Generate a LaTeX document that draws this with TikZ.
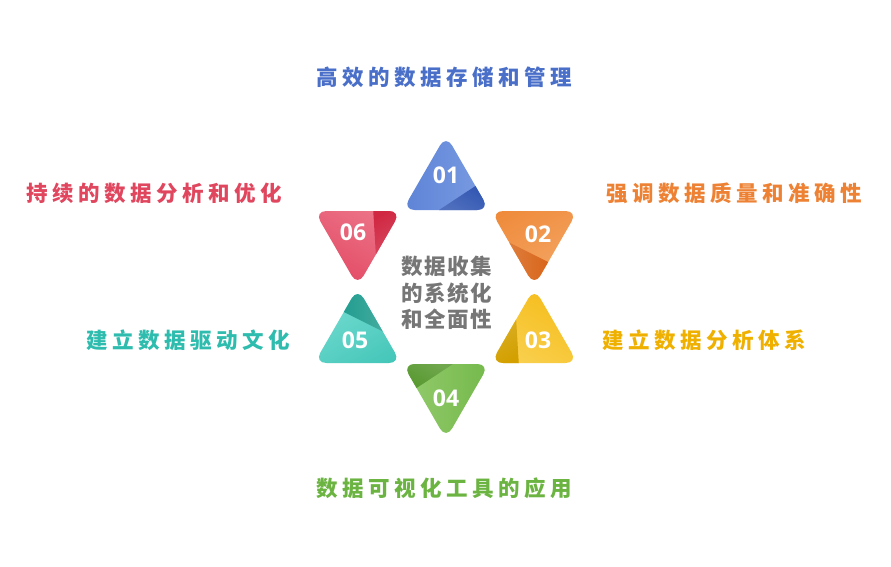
\documentclass[tikz,border=0pt]{standalone}
\usepackage{fontspec}
\setmainfont{Open Sans}
\newfontfamily\cjk[LetterSpace=21]{Noto Sans CJK SC}
\newfontfamily\cjkc[LetterSpace=7]{Noto Sans CJK SC}
\newfontfamily\numf{Open Sans}
\usetikzlibrary{calc}
\definecolor{c1a}{HTML}{5A80D5}\definecolor{c1b}{HTML}{7FA0E4}\definecolor{c1f}{HTML}{3156B2}
\definecolor{c2a}{HTML}{EE8532}\definecolor{c2b}{HTML}{F4A868}\definecolor{c2f}{HTML}{D8661A}
\definecolor{c3a}{HTML}{F5BC18}\definecolor{c3b}{HTML}{FAD55E}\definecolor{c3f}{HTML}{D3A000}
\definecolor{c4a}{HTML}{70B646}\definecolor{c4b}{HTML}{98CE72}\definecolor{c4f}{HTML}{57982F}
\definecolor{c5a}{HTML}{3AC2B3}\definecolor{c5b}{HTML}{78DDD3}\definecolor{c5f}{HTML}{229D8F}
\definecolor{c6a}{HTML}{E24862}\definecolor{c6b}{HTML}{EF8092}\definecolor{c6f}{HTML}{D02843}
\definecolor{t1}{HTML}{4A6FC9}
\definecolor{t2}{HTML}{EE8234}
\definecolor{t3}{HTML}{EFB000}
\definecolor{t4}{HTML}{6BB441}
\definecolor{t5}{HTML}{2DBCAD}
\definecolor{t6}{HTML}{E0475F}
\definecolor{cgray}{HTML}{767676}
\begin{document}
\begin{tikzpicture}[x=1pt,y=1pt,
  lab/.style={font=\cjk\bfseries\fontsize{21.5}{24}\selectfont, inner sep=0pt, anchor=west},
  num/.style={font=\numf\bfseries\fontsize{23}{24}\selectfont, text=white, inner sep=0pt},
  ctrtext/.style={font=\cjkc\bfseries\fontsize{21.5}{26.5}\selectfont, text=cgray, align=center, inner sep=0pt}
  ]
\useasboundingbox (0,0) rectangle (891,-567);
\fill[white] (0,0) rectangle (891,-567);
\coordinate (O) at (446,-287);
\foreach \i/\ang/\ca/\cb/\cf/\tx/\ty in {1/90/c1a/c1b/c1f/446/175, 2/30/c2a/c2b/c2f/538/234, 3/-30/c3a/c3b/c3f/538/340, 4/-90/c4a/c4b/c4f/446/398, 5/-150/c5a/c5b/c5f/355/340, 6/150/c6a/c6b/c6f/353/232}{
  \pgfmathsetmacro\aB{\ang+120}
  \pgfmathsetmacro\aF{\ang-120}
  \coordinate (c\i) at ($(O)+(\ang:102)$);
  \coordinate (A\i) at ($(c\i)+(\ang:50)$);
  \coordinate (B\i) at ($(c\i)+(\aB:50)$);
  \coordinate (F\i) at ($(c\i)+(\aF:50)$);
  \begin{scope}
    \clip[rounded corners=12pt] (A\i) -- (B\i) -- (F\i) -- cycle;
    \shade[top color=\ca, bottom color=\cb, shading angle=\ang] ($(c\i)+(-55,-55)$) rectangle ($(c\i)+(55,55)$);
    \shade[top color=\cf, bottom color=\cf!85!white, shading angle=\aF] ($(F\i)!0.58!(B\i)$) -- (F\i) -- ($(F\i)!0.32!(A\i)$) -- cycle;
  \end{scope}
  \node[num] (n\i) at (\tx,-\ty) {0\i};
}
\node[ctrtext] (ctr) at (447,-293) {数据收集\\的系统化\\和全面性};
\node[lab, text=t1] (l1) at (316,-77) {高效的数据存储和管理};
\node[lab, text=t2] (l2) at (606,-193) {强调数据质量和准确性};
\node[lab, text=t3] (l3) at (602,-340) {建立数据分析体系};
\node[lab, text=t4] (l4) at (316,-488) {数据可视化工具的应用};
\node[lab, text=t5] (l5) at (86,-340) {建立数据驱动文化};
\node[lab, text=t6] (l6) at (26,-193) {持续的数据分析和优化};
\end{tikzpicture}
\end{document}
